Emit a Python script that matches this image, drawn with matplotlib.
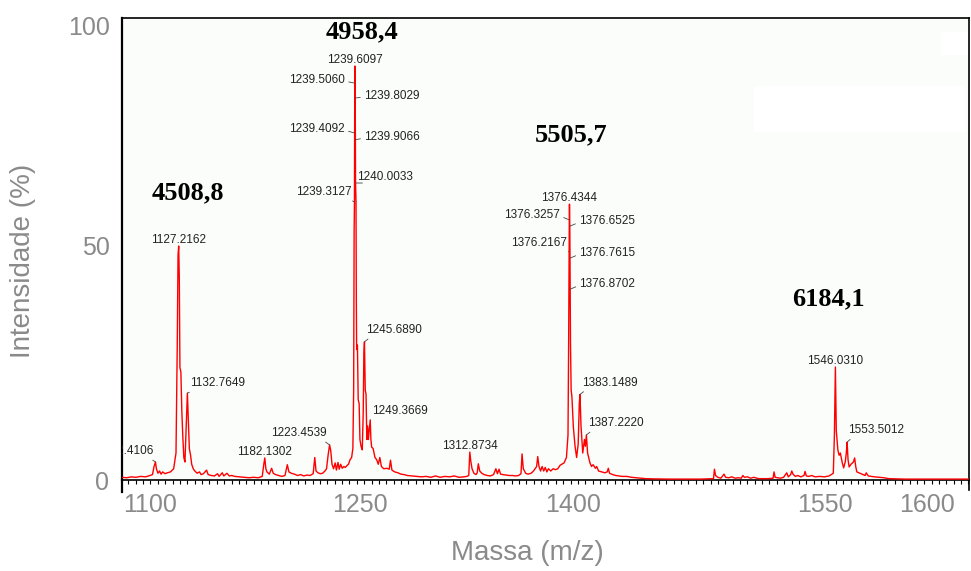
import matplotlib
matplotlib.use('Agg')
import matplotlib.pyplot as plt
from matplotlib.patches import Rectangle
from matplotlib.ticker import MultipleLocator
import numpy as np

plt.rcParams['font.family'] = ['Liberation Sans', 'DejaVu Sans']

# espectro ESI (m/z, intensidade relativa %)
massa = [
    1091.0, 1094.0, 1097.0, 1100.0, 1103.0, 1106.0, 1108.0, 1110.5, 1111.5, 1112.4106,
    1113.0, 1114.0, 1115.0, 1116.0, 1117.0, 1118.5, 1120.0, 1122.0, 1124.0, 1125.5,
    1126.3, 1126.8, 1127.2162, 1127.6, 1128.0, 1128.6, 1129.2, 1129.8, 1130.5, 1131.2,
    1132.0, 1132.7649, 1133.3, 1134.0, 1134.8, 1135.5, 1136.5, 1137.5, 1139.0, 1140.5,
    1141.5, 1143.0, 1145.0, 1146.0, 1148.0, 1150.0, 1152.0, 1153.0, 1155.0, 1156.0,
    1158.0, 1159.5, 1161.0, 1163.0, 1166.0, 1169.0, 1172.0, 1175.0, 1178.0, 1180.5,
    1181.5, 1182.1302, 1182.8, 1183.5, 1185.0, 1186.5, 1187.5, 1189.0, 1191.0, 1193.0,
    1195.0, 1196.5, 1197.5, 1199.0, 1201.0, 1203.0, 1205.0, 1207.0, 1209.0, 1211.0,
    1213.0, 1214.0, 1214.8, 1216.0, 1217.5, 1219.0, 1220.5, 1221.5, 1222.5, 1223.4539,
    1224.2, 1225.0, 1226.0, 1227.0, 1227.8, 1228.8, 1229.6, 1230.5, 1231.5, 1232.5,
    1233.5, 1234.5, 1235.5, 1236.5, 1237.5, 1238.3, 1238.8, 1239.1, 1239.3127, 1239.4092,
    1239.5060, 1239.6097, 1239.8029, 1239.9066, 1240.0033, 1240.3, 1240.5, 1240.7, 1241.2, 1241.7,
    1242.3, 1242.8, 1243.5, 1244.3, 1244.9, 1245.3, 1245.6890, 1246.2, 1246.7, 1247.2,
    1247.7, 1248.2, 1248.7, 1249.3669, 1249.8, 1250.3, 1251.2, 1252.4, 1253.5, 1254.5,
    1255.5, 1256.5, 1258.0, 1260.0, 1261.5, 1262.3, 1263.2, 1265.0, 1267.0, 1269.0,
    1271.0, 1273.0, 1276.0, 1279.0, 1282.0, 1285.0, 1288.0, 1291.0, 1294.0, 1297.0,
    1300.0, 1303.0, 1306.0, 1309.0, 1311.0, 1312.2, 1312.8734, 1313.5, 1314.3, 1315.5,
    1316.8, 1317.6, 1318.3, 1319.2, 1320.5, 1322.0, 1324.0, 1326.0, 1328.0, 1329.5,
    1330.5, 1331.5, 1332.5, 1334.0, 1336.0, 1338.0, 1340.0, 1342.0, 1344.0, 1345.5,
    1346.2, 1347.0, 1348.5, 1350.0, 1352.0, 1353.5, 1355.5, 1356.2, 1357.0, 1358.0,
    1359.0, 1360.0, 1361.0, 1362.0, 1363.0, 1364.5, 1366.0, 1367.5, 1369.0, 1370.5,
    1371.5, 1373.0, 1374.5, 1375.5, 1375.9, 1376.1, 1376.2167, 1376.3257, 1376.4344, 1376.6525,
    1376.7615, 1376.8702, 1377.1, 1377.5, 1378.0, 1378.9, 1380.0, 1381.0, 1382.0, 1382.7,
    1383.1489, 1383.8, 1384.9, 1386.0, 1386.6, 1387.2220, 1388.0, 1389.5, 1390.5, 1391.5,
    1393.0, 1393.8, 1395.0, 1397.0, 1399.0, 1400.5, 1401.2, 1402.0, 1404.0, 1406.0,
    1408.0, 1410.0, 1413.0, 1416.0, 1419.0, 1422.0, 1425.0, 1430.0, 1440.0, 1450.0,
    1460.0, 1468.3, 1468.9, 1469.6, 1471.0, 1473.0, 1475.0, 1476.0, 1478.0, 1480.0,
    1482.0, 1484.0, 1486.0, 1487.0, 1488.0, 1490.0, 1492.0, 1494.0, 1497.0, 1500.0,
    1503.0, 1506.3, 1506.9, 1507.6, 1509.0, 1511.0, 1513.0, 1515.0, 1516.0, 1517.5,
    1518.2, 1519.0, 1520.5, 1522.0, 1524.0, 1526.0, 1526.7, 1527.5, 1529.0, 1531.0,
    1533.0, 1536.0, 1539.0, 1542.0, 1544.7, 1545.4, 1546.0310, 1546.6, 1547.6, 1548.4,
    1549.2, 1550.3, 1551.3, 1552.3, 1553.0, 1553.5012, 1554.1, 1554.8, 1556.0, 1557.5,
    1558.3, 1559.0, 1559.7, 1561.0, 1563.0, 1565.0, 1565.7, 1567.0, 1569.0, 1571.0,
    1574.0, 1577.0, 1580.0, 1585.0, 1590.0, 1600.0, 1610.0, 1620.0, 1631.0,
]
intensidade = [
    0.6, 0.5, 0.7, 0.6, 0.8, 0.7, 0.9, 1.2, 3.0, 4.0,
    2.5, 1.5, 2.0, 1.3, 1.8, 1.4, 1.6, 1.8, 2.5, 6.0,
    30.0, 50.0, 52.0, 45.0, 25.0, 24.0, 15.5, 10.0, 5.0, 4.0,
    12.0, 19.3, 14.0, 7.0, 5.5, 3.5, 2.5, 2.0, 1.5, 1.8,
    1.2, 1.4, 2.2, 1.2, 1.0, 0.9, 1.4, 0.8, 1.6, 0.9,
    1.5, 0.9, 1.0, 0.8, 0.7, 0.6, 0.5, 0.6, 0.5, 0.8,
    3.5, 4.9, 2.5, 1.8, 1.3, 2.6, 1.5, 1.2, 1.0, 0.8,
    1.0, 3.4, 1.8, 1.5, 1.3, 1.0, 1.2, 0.9, 1.1, 1.0,
    1.4, 5.0, 2.0, 1.6, 1.4, 1.5, 2.0, 2.5, 5.5, 7.8,
    6.5, 3.5, 2.5, 3.8, 2.2, 3.9, 2.4, 3.5, 2.6, 3.0,
    2.8, 3.2, 3.5, 4.5, 5.0, 7.0, 20.0, 55.0, 61.8, 77.1,
    88.2, 92.0, 84.9, 75.6, 66.0, 62.0, 40.0, 29.0, 30.0, 17.8,
    17.0, 9.0, 7.5, 6.7, 15.0, 28.0, 30.7, 20.0, 19.0, 9.0,
    12.0, 9.0, 11.0, 13.3, 9.0, 7.3, 7.0, 5.0, 4.5, 3.5,
    5.0, 3.0, 2.5, 2.6, 2.4, 4.4, 2.2, 1.8, 1.6, 1.3,
    1.2, 1.0, 0.9, 0.8, 0.7, 0.8, 0.6, 0.9, 0.6, 0.8,
    0.7, 0.9, 0.6, 0.7, 0.8, 1.0, 6.2, 4.2, 2.5, 1.5,
    1.2, 1.6, 3.6, 2.0, 1.5, 1.2, 1.0, 0.9, 1.2, 2.5,
    1.4, 2.4, 1.3, 1.2, 1.1, 1.0, 1.0, 0.9, 1.0, 1.4,
    5.8, 2.5, 1.5, 1.3, 1.5, 2.0, 3.0, 5.2, 3.0, 2.0,
    3.0, 2.0, 2.8, 1.8, 2.5, 2.0, 2.5, 2.3, 2.5, 3.3,
    3.5, 3.8, 5.0, 10.0, 30.0, 45.0, 50.7, 57.8, 61.3, 56.4,
    49.3, 42.4, 30.0, 20.0, 18.5, 11.8, 7.5, 5.0, 8.0, 17.0,
    19.0, 12.0, 6.0, 9.0, 7.5, 10.0, 6.0, 3.8, 3.0, 3.4,
    2.6, 3.0, 2.0, 1.8, 1.6, 1.8, 2.6, 1.5, 1.2, 1.0,
    0.9, 0.8, 0.8, 0.6, 0.5, 0.4, 0.3, 0.25, 0.2, 0.2,
    0.2, 0.3, 2.4, 1.0, 0.6, 0.4, 1.3, 0.6, 0.5, 0.7,
    0.4, 0.5, 0.4, 1.0, 0.6, 0.7, 0.4, 0.6, 0.3, 0.3,
    0.3, 0.4, 1.8, 0.6, 0.5, 0.4, 0.6, 1.6, 0.7, 1.2,
    2.0, 1.3, 0.8, 1.0, 0.7, 1.0, 1.9, 0.9, 0.8, 1.0,
    0.7, 0.8, 0.7, 0.9, 1.5, 10.0, 25.1, 11.0, 6.7, 5.5,
    6.0, 4.0, 2.7, 4.0, 6.0, 8.4, 4.5, 2.9, 3.5, 4.0,
    4.9, 3.0, 1.8, 1.6, 1.3, 1.0, 1.6, 0.9, 0.8, 0.7,
    0.6, 0.5, 0.3, 0.25, 0.2, 0.2, 0.2, 0.2, 0.2,
]

# picos rotulados
picos = [
    '1112.4106', '1127.2162', '1132.7649', '1182.1302', '1223.4539',
    '1239.3127', '1239.4092', '1239.5060', '1239.6097', '1239.8029',
    '1239.9066', '1240.0033', '1245.6890', '1249.3669', '1312.8734',
    '1376.2167', '1376.3257', '1376.4344', '1376.6525', '1376.7615',
    '1376.8702', '1383.1489', '1387.2220', '1546.0310', '1553.5012',
]
# posicao do rotulo em relacao ao pico (px) e tipo de alinhamento
picos_dx = [-2, 0, 3, 0, -3, -3, -9.5, -9.5, 0, 8.5,
            8.5, 2, 2, 2, 0, -2, -9, 0, 9, 9,
            9, 2, 2, 0, 1]
picos_dy = [11, 6, 10, 6, 12, 10, 4, 3, 6, 2,
            3, 6, 12, 9, 6, 9, 5, 6, 5, 5,
            5, 12, 12, 6, 12]
picos_tipo = ['r', 'c', 'l', 'c', 'r', 'r', 'R', 'R', 'c', 'L',
              'L', 'l', 'l', 'l', 'c', 'r', 'R', 'c', 'L', 'L',
              'L', 'l', 'l', 'c', 'l']

# massas deconvoluidas
especies = ['4508,8', '4958,4', '5505,7', '6184,1']
especies_x = [1132.8, 1244.1, 1377.7, 1541.3]
especies_y = [63.8, 99.6, 76.7, 40.3]

xticks_pos = [1108.9, 1242.8, 1378.6, 1539.4, 1604.4]
xticks_lab = ['1100', '1250', '1400', '1550', '1600']
yticks_pos = [0, 52.2, 100.9]
yticks_lab = ['0', '50', '100']

cinza = '#8a8a8a'

fig = plt.figure(figsize=(9.71, 5.71), dpi=100)
ax = fig.add_axes([122 / 971, 1 - 480 / 571, 847 / 971, 462 / 571])
ax.set_facecolor('#fbfdfb')

ax.add_patch(Rectangle((0.746, 0.753), 0.249, 0.0996, transform=ax.transAxes,
                       facecolor='white', edgecolor='none', zorder=1))
ax.add_patch(Rectangle((0.967, 0.92), 0.033, 0.05, transform=ax.transAxes,
                       facecolor='white', edgecolor='none', zorder=1))

ax.plot(massa, intensidade, color='#ff0000', lw=1.0, zorder=3)
ax.set_xlim(1091.06, 1631.24)
ax.set_ylim(0, 102.67)

relpos = {'c': (0.5, 0), 'l': (0.1, 0), 'r': (0.9, 0), 'L': (0, 0.4), 'R': (1, 0.4)}
alin = {'c': 'center', 'l': 'left', 'r': 'right', 'L': 'left', 'R': 'right'}
for txt, dx, dy, tipo in zip(picos, picos_dx, picos_dy, picos_tipo):
    m = float(txt)
    h = np.interp(m, massa, intensidade)
    seta = None
    if tipo != 'c':
        seta = dict(arrowstyle='-', color='#444444', lw=0.6, shrinkA=0.5, shrinkB=0,
                    relpos=relpos[tipo])
    ax.annotate(txt, xy=(m, h), xytext=(dx * 0.72, dy * 0.72), textcoords='offset points',
                ha=alin[tipo], va='center', fontsize=8.5, color='#222222',
                arrowprops=seta, clip_on=True, zorder=4)

for s, x, y in zip(especies, especies_x, especies_y):
    ax.text(x, y, s, ha='center', va='center', fontsize=19, fontweight='bold',
            family=['Liberation Serif', 'DejaVu Serif'], color='black', zorder=5)

ax.set_xticks(xticks_pos)
ax.set_xticklabels(xticks_lab)
ax.set_yticks(yticks_pos)
ax.set_yticklabels(yticks_lab)
ax.xaxis.set_minor_locator(MultipleLocator(4.7))
ax.tick_params(axis='x', which='major', length=0, pad=9, labelsize=18, labelcolor=cinza)
ax.tick_params(axis='x', which='minor', bottom=True, length=3.2, width=0.8,
               direction='out', color='black')
ax.tick_params(axis='y', which='both', length=0, pad=9, labelsize=18, labelcolor=cinza)

for lado in ['left', 'right', 'top', 'bottom']:
    ax.spines[lado].set_color('black')
    ax.spines[lado].set_linewidth(1.2)
ax.spines['left'].set_linewidth(1.6)

# prolongamento dos eixos laterais abaixo da base
ax.plot([0, 0], [0, -12 / 462], transform=ax.transAxes, color='black', lw=1.6, clip_on=False)
ax.plot([1, 1], [0, -10 / 462], transform=ax.transAxes, color='black', lw=1.2, clip_on=False)

fig.text(23 / 971, 1 - 261 / 571, 'Intensidade (%)', rotation=90, ha='center', va='center',
         fontsize=20, color=cinza)
fig.text(527 / 971, 1 - 553 / 571, 'Massa (m/z)', ha='center', va='center',
         fontsize=20, color=cinza)

fig.savefig('out.png', dpi=100)
